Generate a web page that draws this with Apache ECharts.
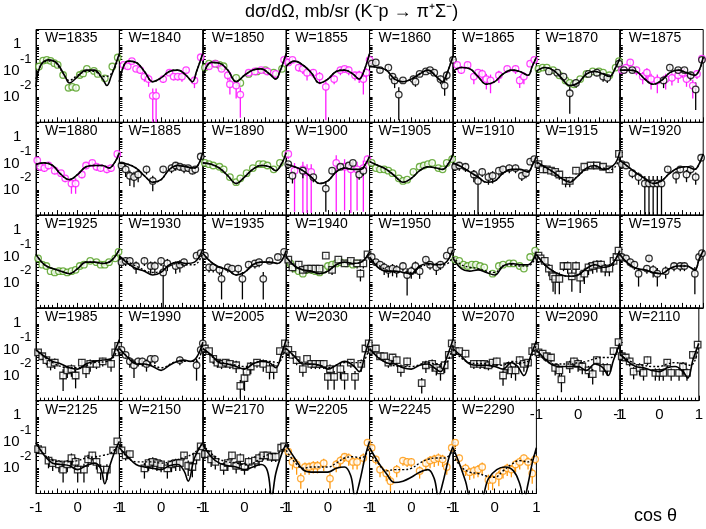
<!DOCTYPE html>
<html><head><meta charset="utf-8">
<script src="https://cdn.jsdelivr.net/npm/echarts@6/dist/echarts.min.js"></script>
<style>html,body{margin:0;padding:0;background:#fff}#c{width:706px;height:529px}</style>
</head><body><div id="c"></div>
<script>
// Energies (MeV) of each panel
const WS = [1835,1840,1850,1855,1860,1865,1870,1875,1880,1885,1890,1900,1905,1910,1915,1920,1925,1930,1935,1940,1950,1955,1965,1975,1985,1990,2005,2030,2040,2070,2090,2110,2125,2150,2170,2205,2245,2290];
// y values are log10(dσ/dΩ [mb/sr])
const Y_TICKS = [0,-1,-2];
const X_TICK_LABELS = [-1,0,1];
// solid model curves [cosθ, log10 value]
const solidCurves = {
1835:[[-1,-1.6],[-0.9,-0.8],[-0.7,-0.55],[-0.5,-0.68],[-0.3,-1.2],[-0.2,-1.45],[0,-1.2],[0.2,-0.95],[0.4,-0.95],[0.6,-1.3],[0.7,-1.55],[0.8,-1.2],[1,-0.3]],
1840:[[-1,-1.4],[-0.8,-0.6],[-0.6,-0.65],[-0.4,-1.0],[-0.2,-1.4],[0,-1.25],[0.2,-1.0],[0.4,-0.95],[0.6,-1.15],[0.75,-1.4],[0.85,-1.0],[1,-0.3]],
1850:[[-1,-1.2],[-0.8,-0.65],[-0.6,-0.68],[-0.4,-0.95],[-0.2,-1.4],[0,-1.15],[0.2,-0.95],[0.4,-0.9],[0.6,-1.1],[0.75,-1.3],[0.85,-1.0],[1,-0.3]],
1855:[[-1,-0.8],[-0.8,-0.6],[-0.6,-0.75],[-0.4,-1.05],[-0.2,-1.45],[0,-1.3],[0.2,-1.0],[0.4,-0.95],[0.6,-1.1],[0.75,-1.3],[0.85,-1.05],[1,-0.3]],
1860:[[-1,-0.8],[-0.8,-0.85],[-0.6,-0.95],[-0.4,-1.3],[-0.2,-1.4],[0,-1.3],[0.2,-1.1],[0.4,-0.95],[0.6,-1.2],[0.75,-1.4],[0.85,-1.1],[1,-0.4]],
1865:[[-1,-1.0],[-0.8,-0.85],[-0.6,-0.9],[-0.4,-1.2],[-0.2,-1.5],[0,-1.4],[0.2,-1.1],[0.4,-0.95],[0.6,-1.0],[0.8,-1.15],[0.9,-0.8],[1,-0.45]],
1870:[[-1,-1.0],[-0.8,-0.85],[-0.6,-0.95],[-0.4,-1.25],[-0.2,-1.55],[0,-1.45],[0.2,-1.1],[0.4,-1.0],[0.6,-1.1],[0.75,-1.2],[0.9,-0.85],[1,-0.5]],
1875:[[-1,-0.95],[-0.8,-0.95],[-0.6,-1.0],[-0.4,-1.3],[-0.2,-1.5],[0,-1.35],[0.2,-1.05],[0.4,-0.95],[0.6,-1.05],[0.8,-1.15],[1,-0.45]],
1880:[[-1,-1.0],[-0.8,-0.95],[-0.6,-1.05],[-0.4,-1.4],[-0.2,-1.6],[0,-1.4],[0.2,-1.1],[0.4,-1.05],[0.6,-1.05],[0.75,-1.15],[0.9,-0.9],[1,-0.55]],
1885:[[-1,-0.95],[-0.8,-1.0],[-0.6,-1.15],[-0.4,-1.45],[-0.2,-1.7],[0,-1.6],[0.2,-1.2],[0.4,-1.05],[0.6,-1.1],[0.8,-1.15],[0.9,-1.0],[1,-0.55]],
1890:[[-1,-0.95],[-0.8,-1.0],[-0.6,-1.15],[-0.4,-1.45],[-0.2,-1.75],[0,-1.5],[0.2,-1.2],[0.4,-1.05],[0.6,-1.1],[0.75,-1.25],[0.9,-0.95],[1,-0.55]],
1900:[[-1,-1.0],[-0.8,-1.1],[-0.6,-1.25],[-0.4,-1.5],[-0.2,-1.75],[0,-1.65],[0.2,-1.3],[0.4,-1.15],[0.6,-1.2],[0.8,-1.2],[0.9,-1.0],[1,-0.7]],
1905:[[-1,-0.9],[-0.8,-1.05],[-0.6,-1.2],[-0.4,-1.45],[-0.2,-1.7],[0,-1.55],[0.2,-1.25],[0.4,-1.1],[0.6,-1.15],[0.75,-1.2],[0.9,-0.95],[1,-0.6]],
1910:[[-1,-0.95],[-0.8,-1.1],[-0.6,-1.3],[-0.4,-1.5],[-0.2,-1.7],[0,-1.65],[0.2,-1.35],[0.4,-1.2],[0.6,-1.2],[0.8,-1.3],[0.9,-1.05],[1,-0.7]],
1915:[[-1,-0.9],[-0.8,-1.1],[-0.6,-1.3],[-0.4,-1.55],[-0.2,-1.7],[0,-1.45],[0.2,-1.15],[0.4,-1.05],[0.6,-1.2],[0.75,-1.15],[0.9,-0.95],[1,-0.5]],
1920:[[-1,-0.85],[-0.8,-1.1],[-0.6,-1.35],[-0.4,-1.55],[-0.2,-1.75],[0,-1.65],[0.2,-1.35],[0.4,-1.15],[0.6,-1.1],[0.8,-1.2],[0.9,-1.0],[1,-0.6]],
1925:[[-1,-0.9],[-0.8,-1.3],[-0.6,-1.45],[-0.4,-1.55],[-0.2,-1.65],[0,-1.45],[0.2,-1.2],[0.4,-1.2],[0.6,-1.25],[0.8,-1.15],[1,-0.7]],
1930:[[-1,-0.95],[-0.8,-1.25],[-0.6,-1.45],[-0.4,-1.55],[-0.2,-1.7],[0,-1.6],[0.2,-1.3],[0.4,-1.2],[0.6,-1.25],[0.8,-1.2],[1,-0.7]],
1935:[[-1,-0.85],[-0.8,-1.2],[-0.6,-1.4],[-0.4,-1.5],[-0.2,-1.7],[0,-1.6],[0.2,-1.3],[0.4,-1.2],[0.6,-1.2],[0.8,-1.25],[1,-0.75]],
1940:[[-1,-1.0],[-0.8,-1.35],[-0.6,-1.5],[-0.4,-1.55],[-0.2,-1.65],[0,-1.55],[0.2,-1.3],[0.4,-1.2],[0.6,-1.25],[0.8,-1.2],[1,-0.8]],
1950:[[-1,-1.0],[-0.8,-1.4],[-0.6,-1.55],[-0.4,-1.55],[-0.2,-1.6],[0,-1.65],[0.2,-1.35],[0.4,-1.25],[0.6,-1.3],[0.8,-1.25],[1,-0.7]],
1955:[[-1,-1.05],[-0.8,-1.45],[-0.6,-1.55],[-0.4,-1.5],[-0.2,-1.6],[0,-1.7],[0.2,-1.35],[0.4,-1.25],[0.6,-1.3],[0.8,-1.3],[1,-0.8]],
1965:[[-1,-0.9],[-0.8,-1.3],[-0.6,-1.55],[-0.4,-1.7],[-0.2,-1.75],[0,-1.7],[0.2,-1.45],[0.4,-1.3],[0.6,-1.4],[0.8,-1.3],[1,-0.75]],
1975:[[-1,-0.9],[-0.8,-1.25],[-0.6,-1.45],[-0.4,-1.5],[-0.2,-1.6],[0,-1.65],[0.2,-1.45],[0.4,-1.35],[0.6,-1.35],[0.8,-1.5],[0.9,-1.1],[1,-0.75]],
1985:[[-1,-1.0],[-0.8,-1.25],[-0.6,-1.45],[-0.4,-1.55],[-0.2,-1.7],[0,-1.75],[0.2,-1.55],[0.4,-1.45],[0.6,-1.4],[0.8,-1.35],[0.9,-1.0],[1,-0.6]],
1990:[[-1,-0.95],[-0.8,-1.3],[-0.6,-1.55],[-0.4,-1.55],[-0.2,-1.65],[0,-1.8],[0.2,-1.6],[0.4,-1.45],[0.55,-1.4],[0.7,-1.45],[0.85,-1.3],[1,-0.7]],
2005:[[-1,-0.95],[-0.8,-1.2],[-0.6,-1.5],[-0.4,-1.55],[-0.2,-1.65],[0,-1.75],[0.2,-1.55],[0.4,-1.45],[0.6,-1.5],[0.75,-1.7],[0.9,-1.1],[1,-0.6]],
2030:[[-1,-0.95],[-0.8,-1.25],[-0.6,-1.55],[-0.4,-1.55],[-0.2,-1.6],[0,-1.75],[0.2,-1.6],[0.4,-1.45],[0.6,-1.6],[0.75,-1.85],[0.9,-1.1],[1,-0.6]],
2040:[[-1,-0.95],[-0.8,-1.3],[-0.6,-1.5],[-0.4,-1.55],[-0.2,-1.7],[0,-1.75],[0.2,-1.6],[0.4,-1.55],[0.55,-1.7],[0.7,-1.85],[0.85,-1.3],[1,-0.6]],
2070:[[-1,-0.95],[-0.8,-1.25],[-0.6,-1.55],[-0.4,-1.6],[-0.2,-1.6],[0,-1.65],[0.2,-1.75],[0.4,-1.5],[0.55,-1.65],[0.7,-2.0],[0.85,-1.3],[1,-0.65]],
2090:[[-1,-1.0],[-0.8,-1.35],[-0.6,-1.6],[-0.4,-1.65],[-0.2,-1.65],[0,-1.65],[0.2,-1.8],[0.4,-1.55],[0.6,-1.7],[0.72,-2.0],[0.85,-1.4],[1,-0.75]],
2110:[[-1,-1.15],[-0.8,-1.45],[-0.6,-1.65],[-0.4,-1.7],[-0.2,-1.8],[0,-1.85],[0.2,-1.7],[0.4,-1.65],[0.6,-1.85],[0.72,-2.1],[0.85,-1.4],[1,-0.75]],
2125:[[-1,-1.0],[-0.8,-1.5],[-0.6,-1.8],[-0.4,-1.85],[-0.2,-1.9],[0,-2.05],[0.2,-1.9],[0.4,-1.8],[0.55,-2.0],[0.65,-2.6],[0.75,-2.0],[0.9,-1.3],[1,-0.95]],
2150:[[-1,-1.2],[-0.8,-1.55],[-0.6,-1.85],[-0.4,-1.95],[-0.2,-2.0],[0,-2.05],[0.2,-1.9],[0.4,-1.85],[0.55,-2.1],[0.65,-2.5],[0.8,-1.6],[1,-1.0]],
2170:[[-1,-1.05],[-0.8,-1.55],[-0.6,-1.8],[-0.4,-1.9],[-0.2,-1.95],[0,-2.05],[0.2,-1.95],[0.4,-1.85],[0.55,-2.1],[0.65,-3.1],[0.75,-2.2],[0.9,-1.4],[1,-1.05]],
2205:[[-1,-1.1],[-0.8,-1.6],[-0.6,-2.05],[-0.4,-2.15],[-0.2,-2.15],[0,-2.15],[0.2,-2.0],[0.4,-1.95],[0.55,-2.3],[0.65,-3.1],[0.75,-2.6],[0.9,-1.5],[1,-0.95]],
2245:[[-1,-1.2],[-0.8,-1.75],[-0.6,-2.2],[-0.4,-2.55],[-0.2,-2.5],[0,-2.35],[0.2,-2.15],[0.4,-2.05],[0.55,-2.4],[0.65,-3.1],[0.75,-2.6],[0.9,-1.6],[1,-1.15]],
2290:[[-1,-1.2],[-0.85,-1.8],[-0.7,-2.5],[-0.55,-3.2],[-0.35,-3.2],[-0.15,-2.4],[0.05,-2.05],[0.25,-1.95],[0.45,-2.1],[0.6,-2.6],[0.7,-3.2],[0.8,-2.6],[0.9,-1.8],[1,-1.2]]
};
// dotted model curves (where distinct from the solid one)
const dottedCurves = {
1835:[[-1,-1.3],[-0.8,-0.62],[-0.6,-0.6],[-0.4,-0.95],[-0.2,-1.35],[0,-1.15],[0.2,-1.0],[0.4,-1.0],[0.6,-1.2],[0.8,-1.1],[1,-0.35]],
1915:[[-1,-0.95],[-0.6,-1.3],[-0.2,-1.65],[0,-1.45],[0.2,-1.2],[0.4,-1.1],[0.6,-1.15],[0.8,-1.2],[1,-0.75]],
1930:[[-1,-1.0],[-0.6,-1.35],[-0.2,-1.6],[0,-1.55],[0.2,-1.35],[0.4,-1.25],[0.6,-1.3],[0.8,-1.3],[1,-0.85]],
1950:[[-1,-1.05],[-0.6,-1.5],[-0.2,-1.6],[0,-1.6],[0.2,-1.4],[0.4,-1.3],[0.6,-1.3],[0.8,-1.3],[1,-1.0]],
1955:[[-1,-1.0],[-0.8,-1.3],[-0.6,-1.4],[-0.4,-1.45],[-0.2,-1.55],[0,-1.6],[0.2,-1.35],[0.4,-1.3],[0.6,-1.35],[0.8,-1.35],[1,-0.95]],
1985:[[-1,-1.0],[-0.6,-1.5],[-0.2,-1.7],[0,-1.7],[0.4,-1.5],[0.7,-1.45],[0.85,-1.3],[1,-0.85]],
1990:[[-1,-0.95],[-0.6,-1.5],[-0.2,-1.6],[0,-1.7],[0.4,-1.45],[0.7,-1.45],[0.85,-1.45],[1,-0.8]],
2005:[[-1,-0.95],[-0.6,-1.45],[-0.2,-1.6],[0,-1.65],[0.4,-1.45],[0.6,-1.45],[0.8,-1.5],[1,-0.8]],
2030:[[-1,-0.95],[-0.6,-1.5],[-0.2,-1.6],[0,-1.7],[0.4,-1.5],[0.6,-1.5],[0.8,-1.5],[1,-0.85]],
2040:[[-1,-1.0],[-0.6,-1.5],[-0.2,-1.65],[0,-1.65],[0.4,-1.5],[0.6,-1.55],[0.8,-1.55],[1,-0.8]],
2070:[[-1,-1.0],[-0.6,-1.5],[-0.2,-1.55],[0.2,-1.6],[0.4,-1.45],[0.7,-1.5],[0.85,-1.35],[1,-0.8]],
2090:[[-1,-1.05],[-0.6,-1.55],[-0.2,-1.55],[0,-1.5],[0.2,-1.45],[0.4,-1.35],[0.6,-1.3],[0.8,-1.3],[1,-0.85]],
2110:[[-1,-1.2],[-0.6,-1.55],[-0.4,-1.6],[-0.2,-1.65],[0,-1.65],[0.2,-1.55],[0.4,-1.5],[0.6,-1.55],[0.8,-1.6],[1,-0.85]],
2125:[[-1,-1.0],[-0.6,-1.7],[-0.2,-1.75],[0,-1.7],[0.2,-1.6],[0.4,-1.55],[0.6,-1.5],[0.8,-1.4],[1,-1.05]],
2150:[[-1,-1.2],[-0.6,-1.75],[-0.2,-1.75],[0,-1.8],[0.3,-1.7],[0.6,-1.55],[0.8,-1.4],[1,-1.0]],
2170:[[-1,-1.1],[-0.6,-1.65],[-0.2,-1.8],[0,-1.85],[0.2,-1.8],[0.4,-1.6],[0.6,-1.45],[0.8,-1.4],[1,-1.1]],
2205:[[-1,-1.3],[-0.8,-1.75],[-0.6,-2.0],[-0.4,-1.95],[-0.2,-1.95],[0,-1.95],[0.2,-1.8],[0.4,-1.6],[0.6,-1.55],[0.8,-1.6],[1,-1.15]],
2245:[[-1,-1.45],[-0.8,-1.8],[-0.6,-2.1],[-0.4,-2.05],[-0.2,-2.05],[0,-2.0],[0.2,-1.8],[0.4,-1.65],[0.6,-1.6],[0.8,-1.6],[1,-1.3]],
2290:[[-1,-1.5],[-0.8,-1.95],[-0.6,-2.15],[-0.4,-2.2],[-0.2,-2.3],[0,-2.35],[0.2,-2.1],[0.4,-1.85],[0.6,-1.7],[0.8,-1.75],[1,-1.35]]
};
// measured points [cosθ, log10 value, log10 lower error]
const blackPts = {
1860:[[-0.95,-0.7,.1],[-0.85,-0.65,.1],[-0.75,-0.95,.1],[-0.55,-0.85,.1],[-0.45,-1.2,.2],[-0.4,-1.35,.3],[-0.3,-1.9,1.0],[-0.2,-1.35,.1],[0.05,-1.3,.2],[0.1,-1.4,.2],[0.2,-1.1,.1],[0.35,-1.0,.1],[0.45,-0.95,.1],[0.55,-1.05,.1],[0.7,-1.3,.2],[0.8,-1.55,.4],[0.85,-1.15,.2],[1.0,-0.55,.1]],
1870:[[-0.7,-1.0,.1],[-0.5,-1.05,.1],[-0.35,-1.2,.1],[-0.2,-1.85,.8],[-0.05,-1.45,.2],[0.25,-1.1,.1],[0.45,-1.05,.15],[0.6,-1.2,.2],[0.7,-1.25,.2],[0.98,-0.7,.1]],
1875:[[-0.9,-0.95,.1],[-0.7,-0.95,.1],[0.05,-1.35,.3],[0.2,-0.85,.1],[0.4,-0.95,.1],[0.55,-0.95,.1],[0.7,-1.15,.2],[0.82,-1.7,.8],[0.97,-0.55,.1]],
1885:[[-0.95,-1.05,.15],[-0.85,-1.2,.3],[-0.75,-1.45,.4],[-0.65,-1.5,.4],[-0.55,-1.4,.3],[-0.35,-1.2,.2],[-0.2,-1.65,.4],[0.05,-1.2,.15],[0.25,-1.15,.2],[0.35,-1.05,.2],[0.45,-1.1,.15],[0.55,-1.15,.2],[0.65,-1.15,.15],[0.75,-1.25,.15],[0.82,-1.2,.15],[0.95,-0.7,.1]],
1900:[[-0.95,-1.0,.1],[-0.85,-1.45,.3],[-0.6,-1.25,.3],[-0.35,-1.5,.2],[-0.05,-1.95,.9],[0.1,-1.25,.15],[0.3,-1.1,.1],[0.5,-1.05,.1],[0.6,-0.95,.1],[0.75,-1.4,.2],[0.85,-1.25,.2]],
1910:[[-0.95,-1.1,.15],[-0.85,-1.05,.2],[-0.7,-1.1,.2],[-0.5,-1.4,.3],[-0.4,-1.65,1.3],[-0.3,-1.3,.2],[-0.15,-1.5,.3],[-0.05,-1.45,.3],[0.1,-1.25,.2],[0.2,-1.2,.2],[0.35,-1.15,.2],[0.5,-1.15,.2],[0.65,-1.45,.2],[0.75,-1.35,.2],[0.85,-0.9,.1],[0.95,-0.8,.1]],
1915:[[-0.95,-1.0,.1],[-0.85,-1.2,.1],[-0.75,-1.2,.1],[-0.65,-1.25,.15],[-0.55,-1.3,.2],[-0.45,-1.4,.2],[-0.3,-1.65,.25],[-0.2,-1.65,.25],[-0.05,-1.25,.15],[0.15,-1.1,.1],[0.3,-1.05,.1],[0.45,-1.05,.1],[0.6,-1.1,.1],[0.75,-1.2,.1],[0.98,-0.6,.08]],
1920:[[-0.95,-1.0,.1],[-0.85,-1.05,.1],[-0.7,-1.35,.2],[-0.55,-1.5,.3],[-0.4,-1.75,1.3],[-0.3,-1.75,1.3],[-0.2,-1.75,1.3],[-0.1,-1.75,1.3],[0.0,-1.75,1.3],[0.15,-1.2,.15],[0.35,-1.45,.3],[0.45,-1.2,.15],[0.6,-1.4,.3],[0.7,-1.2,.2],[0.82,-1.5,.3],[0.95,-0.75,.1]],
1930:[[-0.95,-1.2,.2],[-0.85,-1.15,.2],[-0.75,-1.15,.2],[-0.6,-1.35,.3],[-0.4,-1.15,.2],[-0.25,-1.35,.3],[-0.15,-1.35,.3],[0.0,-1.15,.2],[0.05,-1.6,1.4],[0.15,-1.25,.3],[0.35,-1.35,.3],[0.45,-1.3,.3],[0.55,-1.2,.2],[0.85,-0.95,.1],[0.95,-0.85,.1]],
1935:[[-0.95,-0.95,.1],[-0.85,-1.4,.2],[-0.75,-1.4,.2],[-0.6,-1.5,.2],[-0.55,-1.85,.8],[-0.4,-1.4,.2],[-0.3,-1.45,.2],[-0.15,-1.45,.2],[-0.05,-1.85,.8],[0.1,-1.3,.2],[0.25,-1.25,.2],[0.35,-1.2,.2],[0.45,-1.85,.8],[0.6,-1.15,.1],[0.8,-1.0,.1],[0.95,-0.8,.1]],
1940:[[-0.95,-1.1,.1],[-0.85,-1.4,.2],[-0.7,-1.3,.2],[-0.6,-1.5,.2],[-0.5,-1.45,.2],[-0.4,-1.45,.2],[-0.3,-1.45,.2],[-0.2,-1.45,.2],[-0.05,-0.95,.1],[0.1,-1.5,.2],[0.25,-1.1,.1],[0.4,-1.25,.1],[0.55,-1.15,.1],[0.7,-1.25,.2],[0.78,-1.65,.3],[0.85,-1.25,.2],[0.95,-0.9,.1]],
1950:[[-0.95,-1.0,.1],[-0.85,-1.2,.15],[-0.75,-1.3,.2],[-0.65,-1.4,.3],[-0.55,-1.5,.3],[-0.45,-1.45,.3],[-0.35,-1.5,.3],[-0.2,-1.35,.2],[-0.1,-1.7,.8],[0.0,-1.55,.3],[0.1,-1.35,.3],[0.2,-1.55,.3],[0.35,-1.1,.15],[0.45,-1.3,.2],[0.6,-1.4,.3],[0.7,-1.3,.2],[0.85,-0.95,.1],[0.95,-0.75,.1]],
1965:[[-0.95,-0.95,.1],[-0.9,-1.05,.15],[-0.8,-1.15,.2],[-0.7,-1.45,.3],[-0.6,-1.75,.6],[-0.55,-1.85,.6],[-0.45,-1.85,.6],[-0.35,-1.35,.2],[-0.25,-1.35,.3],[-0.15,-1.75,.6],[-0.05,-1.35,.3],[0.05,-1.8,.6],[0.15,-1.65,.4],[0.25,-1.4,.3],[0.35,-1.35,.3],[0.45,-1.3,.3],[0.55,-1.3,.3],[0.65,-1.45,.3],[0.75,-1.45,.3],[0.85,-1.15,.2],[0.92,-1.0,.1],[0.97,-0.75,.1]],
1975:[[-0.95,-1.0,.1],[-0.85,-1.05,.15],[-0.75,-1.2,.2],[-0.65,-1.3,.2],[-0.55,-1.65,.5],[-0.35,-1.45,.2],[-0.3,-1.05,.15],[-0.2,-1.5,.3],[-0.1,-1.65,.5],[0.1,-1.55,.3],[0.3,-1.35,.2],[0.45,-1.35,.2],[0.55,-1.35,.2],[0.8,-1.65,.8],[0.9,-1.0,.15],[0.97,-0.85,.1]],
1985:[[-0.95,-1.1,.1],[-0.85,-1.25,.15],[-0.75,-1.4,.2],[-0.65,-1.55,.25],[-0.55,-1.5,.25],[-0.35,-2.0,.6],[-0.25,-1.8,.3],[-0.15,-1.75,.3],[-0.05,-2.0,.5],[0.1,-1.5,.2],[0.2,-1.8,.3],[0.3,-1.55,.3],[0.45,-1.55,.2],[0.6,-1.45,.2],[0.8,-1.55,.3],[0.9,-1.1,.1],[0.97,-0.85,.1]],
1990:[[-0.95,-1.0,.1],[-0.85,-1.2,.15],[-0.75,-1.45,.25],[-0.65,-1.6,.5],[-0.55,-1.45,.2],[-0.45,-1.45,.2],[-0.35,-1.55,.3],[-0.25,-1.35,.2],[-0.15,-1.35,.2],[0.45,-1.4,.2],[0.85,-1.6,.6],[0.95,-1.0,.1],[1.0,-0.75,.1]],
2005:[[-0.95,-0.95,.1],[-0.85,-1.05,.15],[-0.75,-1.35,.2],[-0.65,-1.5,.2],[-0.55,-1.55,.2],[-0.45,-1.5,.2],[-0.35,-1.55,.2],[-0.2,-1.6,.3],[-0.1,-2.4,.5],[0.0,-2.1,.5],[0.05,-1.85,.4],[0.15,-1.65,.3],[0.3,-1.5,.2],[0.45,-1.55,.3],[0.6,-1.75,.4],[0.7,-1.75,.4],[0.85,-1.05,.1],[0.97,-0.75,.1]],
2030:[[-0.95,-1.0,.1],[-0.85,-1.2,.15],[-0.75,-1.4,.2],[-0.6,-1.75,.3],[-0.5,-1.35,.15],[-0.4,-1.55,.2],[-0.3,-1.55,.2],[-0.2,-1.55,.2],[-0.1,-1.55,.2],[0.0,-2.05,.5],[0.05,-1.75,.3],[0.15,-2.05,.5],[0.3,-1.75,.4],[0.4,-2.05,.5],[0.55,-1.5,.2],[0.65,-2.05,.5],[0.8,-1.55,.3],[0.9,-0.95,.1],[0.98,-0.75,.1]],
2040:[[-0.95,-1.0,.1],[-0.85,-0.95,.1],[-0.75,-1.25,.15],[-0.65,-1.25,.15],[-0.55,-1.5,.2],[-0.45,-1.3,.2],[-0.35,-1.4,.2],[-0.25,-1.75,.3],[-0.1,-1.45,.2],[0.25,-2.3,.4],[0.35,-1.6,.3],[0.5,-1.55,.3],[0.6,-1.7,.3],[0.7,-1.8,.4],[0.8,-1.6,.3],[0.9,-1.2,.15],[0.97,-0.75,.1]],
2070:[[-0.95,-1.05,.1],[-0.85,-1.05,.1],[-0.7,-1.15,.15],[-0.5,-1.55,.2],[-0.35,-1.55,.2],[-0.25,-1.55,.2],[-0.15,-1.6,.2],[-0.05,-1.5,.2],[0.05,-1.45,.2],[0.2,-2.0,.4],[0.3,-1.65,.3],[0.4,-1.8,.3],[0.5,-1.8,.4],[0.6,-1.4,.2],[0.7,-1.55,.3],[0.8,-1.5,.2],[0.9,-1.05,.15],[0.97,-0.9,.1]],
2090:[[-0.95,-1.1,.15],[-0.85,-1.15,.15],[-0.75,-1.25,.2],[-0.65,-1.3,.2],[-0.55,-1.7,.3],[-0.45,-1.8,.3],[-0.4,-2.15,.5],[-0.2,-1.6,.3],[-0.1,-1.45,.2],[0.0,-1.55,.3],[0.1,-1.65,.3],[0.25,-1.8,.3],[0.35,-1.95,.4],[0.45,-1.4,.2],[0.6,-1.7,.3],[0.7,-1.7,.3],[0.85,-1.05,.15],[0.97,-0.7,.1]],
2110:[[-0.95,-1.25,.15],[-0.85,-1.3,.15],[-0.75,-1.45,.2],[-0.65,-1.85,.3],[-0.5,-1.7,.3],[-0.4,-1.9,.3],[-0.3,-1.4,.2],[-0.1,-1.9,.3],[0.0,-1.9,.3],[0.1,-1.9,.3],[0.2,-1.5,.2],[0.3,-1.9,.3],[0.5,-1.9,.3],[0.6,-1.65,.3],[0.7,-1.9,.3],[0.85,-1.2,.15],[0.97,-0.8,.1]],
2125:[[-0.95,-1.25,.15],[-0.85,-1.3,.15],[-0.7,-1.7,.3],[-0.6,-1.8,.3],[-0.45,-1.85,.3],[-0.35,-2.05,.5],[-0.25,-1.85,.3],[-0.15,-1.6,.3],[-0.05,-1.75,.3],[0.0,-2.05,.5],[0.15,-2.05,.5],[0.25,-1.65,.3],[0.35,-1.5,.2],[0.45,-1.75,.3],[0.55,-2.05,.4],[0.7,-2.05,.4],[0.85,-1.3,.15],[0.95,-0.95,.1]],
2150:[[-0.95,-1.3,.15],[-0.85,-1.5,.2],[-0.75,-1.45,.2],[-0.4,-2.0,.4],[-0.3,-1.8,.3],[-0.2,-1.75,.3],[-0.1,-1.8,.3],[0.0,-1.85,.3],[0.15,-2.0,.4],[0.25,-1.85,.3],[0.35,-1.8,.3],[0.45,-1.8,.3],[0.55,-1.5,.2],[0.65,-1.9,.4],[0.75,-1.95,.4],[0.85,-1.55,.3],[0.95,-1.15,.1]],
2170:[[-0.95,-1.45,.2],[-0.87,-1.45,.2],[-0.8,-1.65,.3],[-0.7,-1.75,.3],[-0.5,-1.95,.3],[-0.4,-1.8,.3],[-0.3,-1.5,.2],[-0.2,-1.9,.3],[-0.1,-1.6,.3],[0.0,-1.95,.3],[0.1,-1.75,.3],[0.25,-1.7,.3],[0.35,-1.6,.3],[0.45,-1.5,.2],[0.55,-1.5,.2],[0.65,-1.55,.2],[0.75,-1.55,.2],[0.88,-1.2,.15],[0.95,-1.15,.1]]
};
// panels whose black points are drawn as squares
const squarePanels = [1915,1940,1965,1985,2005,2030,2040,2070,2090,2110,2125,2150,2170];
const greenPts = {
1835:[[-0.93,-0.81,.06],[-0.83,-0.58,.06],[-0.74,-0.55,.06],[-0.65,-0.59,.06],[-0.56,-0.68,.06],[-0.48,-0.75,.06],[-0.35,-1.14,.08],[-0.22,-1.64,.12],[-0.13,-1.6,.1],[-0.04,-1.64,.1],[0.05,-1.14,.08],[0.13,-1.08,.08],[0.22,-0.9,.06],[0.39,-0.98,.08],[0.48,-1.1,.08],[0.65,-1.27,.08],[0.83,-0.81,.06],[0.96,-0.46,.06]],
1850:[[-0.95,-0.85,.06],[-0.85,-0.7,.06],[-0.7,-0.7,.06],[-0.6,-0.75,.06],[-0.5,-0.8,.06],[-0.2,-1.25,.08],[-0.1,-1.45,.08],[0.1,-1.1,.06],[0.3,-1.0,.06],[0.5,-0.95,.06],[0.7,-1.05,.06],[0.9,-0.9,.06]],
1870:[[-0.95,-0.9,.06],[-0.85,-0.85,.06],[-0.75,-0.85,.06],[-0.6,-0.95,.06],[-0.45,-1.15,.06],[-0.3,-1.35,.06],[-0.2,-1.45,.06],[-0.1,-1.5,.06],[0.05,-1.3,.06],[0.2,-1.1,.06],[0.35,-1.0,.06],[0.5,-1.0,.06],[0.6,-1.05,.06],[0.75,-1.15,.06],[0.9,-0.85,.06],[0.98,-0.6,.06]],
1890:[[-0.95,-0.95,.06],[-0.85,-1.0,.06],[-0.75,-1.05,.06],[-0.6,-1.1,.06],[-0.5,-1.2,.06],[-0.35,-1.5,.06],[-0.2,-1.7,.06],[-0.1,-1.55,.06],[0.05,-1.35,.06],[0.2,-1.15,.06],[0.35,-1.0,.06],[0.45,-1.0,.06],[0.55,-1.05,.06],[0.7,-1.2,.06],[0.85,-0.95,.06],[0.98,-0.6,.06]],
1905:[[-0.95,-0.95,.06],[-0.85,-1.15,.06],[-0.75,-1.2,.06],[-0.65,-1.2,.06],[-0.55,-1.25,.06],[-0.45,-1.35,.06],[-0.3,-1.55,.06],[-0.2,-1.65,.06],[-0.1,-1.6,.06],[0.05,-1.3,.06],[0.2,-1.1,.06],[0.3,-1.05,.06],[0.4,-1.0,.06],[0.5,-0.95,.06],[0.65,-1.15,.06],[0.75,-1.2,.06],[0.85,-0.95,.06],[0.98,-0.8,.06]],
1925:[[-0.95,-1.05,.06],[-0.85,-1.3,.06],[-0.75,-1.35,.06],[-0.65,-1.55,.06],[-0.55,-1.6,.1],[-0.45,-1.55,.06],[-0.35,-1.55,.06],[-0.25,-1.6,.06],[-0.15,-1.55,.06],[-0.05,-1.5,.06],[0.05,-1.35,.06],[0.15,-1.3,.06],[0.3,-1.15,.06],[0.45,-1.2,.06],[0.55,-1.3,.06],[0.65,-1.3,.06],[0.75,-1.2,.06],[0.9,-1.05,.06],[0.98,-0.8,.06]],
1940:[[-0.9,-1.25,.1],[-0.8,-1.45,.1],[-0.7,-1.55,.1],[-0.6,-1.65,.1],[-0.5,-1.5,.1],[-0.4,-1.5,.1],[-0.3,-1.55,.1],[-0.2,-1.6,.1],[-0.1,-1.5,.1],[0.0,-1.35,.1],[0.1,-1.3,.1],[0.2,-1.25,.1],[0.3,-1.2,.1],[0.45,-1.25,.1],[0.6,-1.3,.1],[0.7,-1.25,.1]],
1955:[[-0.95,-1.1,.06],[-0.85,-1.15,.06],[-0.75,-1.3,.06],[-0.65,-1.35,.06],[-0.55,-1.3,.06],[-0.45,-1.3,.06],[-0.35,-1.35,.06],[-0.25,-1.4,.06],[-0.05,-1.65,.08],[0.1,-1.35,.06],[0.2,-1.3,.06],[0.35,-1.25,.06],[0.45,-1.25,.06],[0.6,-1.35,.06],[0.7,-1.45,.06],[0.85,-1.0,.06],[0.97,-0.75,.06]]
};
const magentaPts = {
1840:[[-0.9,-0.75,.1],[-0.8,-0.8,.1],[-0.7,-0.6,.1],[-0.6,-0.9,.1],[-0.5,-0.95,.15],[-0.4,-1.2,.2],[-0.3,-1.3,.3],[-0.2,-1.95,1.2],[-0.12,-1.95,1.2],[0.05,-1.3,.15],[0.2,-1.05,.1],[0.3,-1.2,.15],[0.4,-1.2,.15],[0.5,-1.2,.2],[0.6,-0.95,.15],[0.8,-1.35,.3],[0.95,-0.45,.1]],
1850:[[-0.85,-0.8,.1],[-0.7,-0.7,.1],[-0.55,-0.9,.1],[-0.4,-1.15,.2],[-0.35,-1.5,.4],[-0.2,-1.55,.5],[-0.1,-1.9,.9],[0.1,-1.05,.15],[0.25,-1.0,.15],[0.4,-0.95,.1],[0.55,-1.0,.15],[0.75,-1.1,.2],[0.95,-0.55,.1]],
1855:[[-0.95,-0.65,.1],[-0.85,-0.55,.1],[-0.7,-0.85,.15],[-0.6,-0.9,.2],[-0.5,-1.05,.3],[-0.35,-1.05,.2],[-0.2,-1.2,.3],[-0.05,-1.6,1.3],[0.15,-1.3,.2],[0.3,-0.95,.2],[0.4,-0.9,.15],[0.5,-0.95,.2],[0.65,-1.15,.2],[0.75,-1.15,.3],[0.85,-1.3,.6],[0.92,-1.05,.3],[1.0,-0.55,.1]],
1865:[[-0.9,-0.75,.15],[-0.8,-0.95,.15],[-0.65,-0.75,.15],[-0.5,-1.2,.3],[-0.4,-1.05,.2],[-0.3,-1.1,.3],[-0.2,-1.3,.4],[-0.1,-1.35,.5],[0.1,-1.15,.3],[0.3,-0.9,.15],[0.5,-0.9,.2],[0.6,-1.35,.3],[0.7,-1.2,.3],[0.85,-0.7,.1],[0.95,-0.55,.1]],
1875:[[-0.95,-0.95,.15],[-0.85,-0.85,.2],[-0.75,-0.65,.15],[-0.6,-0.95,.2],[-0.45,-1.2,.3],[-0.35,-1.05,.3],[-0.25,-1.3,.4],[-0.1,-1.35,.5],[0.1,-1.3,.4],[0.25,-1.25,.3],[0.4,-1.15,.3],[0.5,-1.05,.2],[0.6,-1.3,.3],[0.75,-1.55,.5],[0.85,-1.1,.2],[0.97,-0.5,.1]],
1880:[[-0.97,-0.85,.1],[-0.9,-1.1,.15],[-0.8,-1.15,.15],[-0.7,-1.05,.15],[-0.55,-1.25,.15],[-0.4,-1.35,.15],[-0.3,-1.55,.15],[-0.15,-1.75,.4],[-0.05,-1.75,.4],[0.1,-1.4,.15],[0.2,-1.05,.15],[0.35,-0.95,.15],[0.45,-1.1,.15],[0.55,-1.15,.15],[0.7,-1.2,.15],[0.8,-1.15,.15],[0.95,-0.6,.1]],
1900:[[-0.95,-0.6,.2],[-0.8,-1.25,1.6],[-0.6,-1.2,1.7],[-0.5,-1.3,1.6],[-0.4,-1.3,1.6],[0.2,-0.95,1.9],[0.4,-1.1,1.7],[0.55,-1.2,1.7],[0.7,-1.2,1.6],[0.85,-1.15,1.7],[0.95,-0.8,.2]]
};
const orangePts = {
2205:[[-0.95,-1.35,.1],[-0.85,-1.75,.3],[-0.75,-1.85,.4],[-0.65,-2.4,.4],[-0.55,-1.95,.3],[-0.45,-1.95,.3],[-0.35,-1.9,.3],[-0.25,-1.9,.3],[-0.1,-1.8,.3],[0.05,-2.4,.4],[0.2,-1.85,.3],[0.3,-1.7,.3],[0.4,-1.55,.2],[0.5,-1.6,.3],[0.6,-1.75,.3],[0.7,-1.75,.3],[0.85,-1.6,.3],[0.95,-1.0,.1]],
2245:[[-0.95,-1.2,.1],[-0.85,-1.65,.2],[-0.75,-2.05,.3],[-0.6,-2.2,.3],[-0.5,-2.5,.4],[-0.35,-2.05,.3],[-0.2,-1.7,.2],[-0.1,-1.75,.2],[0.0,-1.75,.2],[0.2,-2.1,.3],[0.35,-1.8,.3],[0.45,-1.7,.3],[0.55,-1.65,.3],[0.65,-1.6,.3],[0.75,-1.65,.3],[0.85,-1.95,.3],[0.97,-1.2,.1]],
2290:[[-0.95,-1.0,.1],[-0.85,-1.6,.2],[-0.7,-2.0,.3],[-0.6,-2.15,.3],[-0.5,-2.1,.3],[-0.4,-2.05,.3],[-0.3,-1.95,.3],[-0.15,-2.45,.4],[-0.05,-2.45,.4],[0.1,-2.3,.4],[0.2,-2.1,.3],[0.3,-2.0,.3],[0.4,-2.05,.3],[0.5,-1.85,.3],[0.6,-1.75,.3],[0.7,-1.6,.2],[0.8,-1.75,.3],[0.9,-2.2,.4],[0.97,-1.65,.2]]
};

const YMIN=-2.98, YMAX=0.63;
const COLORS={black:'#000',green:'#4f9d1c',magenta:'#ff1aff',orange:'#ff9a10'};
const L0=36, T0=29.5, PW=83.4, PH=92.8, NC=8;
const minorTicks=[];
for (let d=0; d>=-3; d--) for (let k=1;k<=9;k++){const v=d+Math.log10(k); if(v>=YMIN&&v<=YMAX) minorTicks.push(v);}
const FONT='Liberation Sans, Arial, sans-serif';
const grids=[],xAxes=[],yAxes=[],series=[],graphic=[];
WS.forEach((w,i)=>{
  const c=i%NC, r=Math.floor(i/NC);
  const left=L0+c*PW, top=T0+r*PH;
  grids.push({left:left,top:top,width:PW,height:PH,show:true,borderColor:'#000',borderWidth:1,backgroundColor:'#fff'});
  const bottomPanel = (i+NC>=WS.length);
  xAxes.push({gridIndex:i,type:'value',min:-1,max:1,interval:0.5,position:'bottom',
    axisLine:{show:true,onZero:false,lineStyle:{color:'#000'}},splitLine:{show:false},
    axisTick:{show:true,inside:true,length:5,lineStyle:{color:'#000'}},
    minorTick:{show:true,splitNumber:5,length:3,lineStyle:{color:'#000'}},
    axisLabel:{show:bottomPanel,color:'#000',fontSize:15,fontFamily:FONT,margin:7,showMinLabel:true,showMaxLabel:true,
      formatter:v=>X_TICK_LABELS.includes(v)?String(v):''}});
  yAxes.push({gridIndex:i,type:'value',min:YMIN,max:YMAX,position:'left',
    axisLine:{show:true,onZero:false,lineStyle:{color:'#000'}},splitLine:{show:false},
    axisTick:{show:true,inside:true,length:3,customValues:minorTicks,lineStyle:{color:'#000'}},
    axisLabel:{show:false}});
  graphic.push({type:'text',left:left+9,top:top+2,z:100,style:{text:'W='+w,font:'14px '+FONT,fill:'#000'}});
  const ebar=(pts,color,shape)=>{
    if(!pts) return;
    series.push({type:'custom',xAxisIndex:i,yAxisIndex:i,data:pts,silent:true,z:2,
      renderItem:(p,api)=>{
        const x=api.value(0),y=api.value(1),e=api.value(2);
        const up=Math.log10(2-Math.pow(10,-e));
        const a=api.coord([x,Math.max(y-e,YMIN)]), b=api.coord([x,Math.min(y+up,YMAX)]);
        return {type:'line',shape:{x1:a[0],y1:a[1],x2:b[0],y2:b[1]},style:{stroke:color,lineWidth:1.3}};
      }});
    series.push({type:'scatter',xAxisIndex:i,yAxisIndex:i,data:pts.map(p=>[p[0],p[1]]),symbol:shape,symbolSize:6.5,z:3,
      itemStyle:{color:'#fff',borderColor:color,borderWidth:1.3},silent:true});
  };
  ebar(greenPts[w],COLORS.green,'circle');
  ebar(magentaPts[w],COLORS.magenta,'circle');
  ebar(orangePts[w],COLORS.orange,'circle');
  ebar(blackPts[w],COLORS.black,squarePanels.includes(w)?'rect':'circle');
  series.push({type:'line',xAxisIndex:i,yAxisIndex:i,data:dottedCurves[w]||solidCurves[w],smooth:0.4,showSymbol:false,symbol:'none',z:4,
    lineStyle:{color:'#000',width:1.4,type:[2,2]},silent:true});
  series.push({type:'line',xAxisIndex:i,yAxisIndex:i,data:solidCurves[w],smooth:0.4,showSymbol:false,symbol:'none',z:5,
    lineStyle:{color:'#000',width:1.6},silent:true});
});
// y-axis labels for the left column
for(let r=0;r<5;r++){
  const top=T0+r*PH;
  graphic.push({type:'text',left:13,top:top+7,style:{text:'1',font:'15px '+FONT,fill:'#000'}});
  graphic.push({type:'text',left:20,top:top+23,style:{text:'-1',font:'13px '+FONT,fill:'#000'}});
  graphic.push({type:'text',left:3,top:top+34,style:{text:'10',font:'15px '+FONT,fill:'#000'}});
  graphic.push({type:'text',left:20,top:top+49,style:{text:'-2',font:'13px '+FONT,fill:'#000'}});
  graphic.push({type:'text',left:3,top:top+60,style:{text:'10',font:'15px '+FONT,fill:'#000'}});
}
graphic.push({type:'text',left:245,top:3,style:{text:'dσ/dΩ, mb/sr (K⁻p → π⁺Σ⁻)',font:'18px '+FONT,fill:'#000'}});
graphic.push({type:'text',left:634,top:507,style:{text:'cos θ',font:'18px '+FONT,fill:'#000'}});
const chart=echarts.init(document.getElementById('c'),null,{renderer:'canvas'});
chart.setOption({animation:false,backgroundColor:'#fff',grid:grids,xAxis:xAxes,yAxis:yAxes,series:series,graphic:graphic});
</script></body></html>
